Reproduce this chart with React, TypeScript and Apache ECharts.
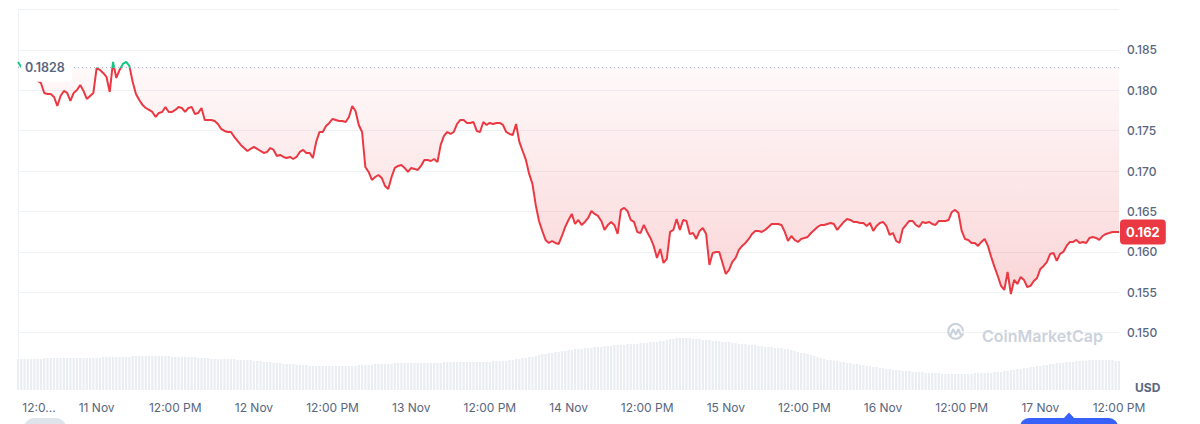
import React, { useEffect, useRef } from "react";
import * as echarts from "echarts";

// ---- data -------------------------------------------------------------
const START_UTC = Date.UTC(2024, 10, 10, 12, 0); // 10 Nov, 12:00 PM
const STEP_HOURS = 0.5;
const SPAN_HOURS = 168;
const BASELINE = 0.1828;

const PRICES = [
  0.18351, 0.18289, 0.18239, 0.18202, 0.18165, 0.1814, 0.18116, 0.18091, 0.17967, 0.17955,
  0.17955, 0.17918, 0.17806, 0.1793, 0.17992, 0.17967, 0.17868, 0.17967, 0.18004, 0.18066,
  0.17992, 0.17893, 0.1793, 0.17967, 0.18276, 0.18252, 0.18215, 0.18165, 0.17979, 0.18351,
  0.18153, 0.18252, 0.18326, 0.18351, 0.18301, 0.18103, 0.17955, 0.1788, 0.17819, 0.17781,
  0.17757, 0.17732, 0.1767, 0.1772, 0.17732, 0.17794, 0.17732, 0.17732, 0.17757, 0.17794,
  0.17781, 0.17732, 0.17781, 0.17794, 0.17707, 0.1772, 0.17781, 0.17633, 0.17633, 0.17633,
  0.17621, 0.17583, 0.17522, 0.17497, 0.17484, 0.17484, 0.17423, 0.17373, 0.17324, 0.17286,
  0.17249, 0.17274, 0.17299, 0.17274, 0.17249, 0.17225, 0.17237, 0.17286, 0.17262, 0.17187,
  0.172, 0.17175, 0.17163, 0.17175, 0.1715, 0.17175, 0.17237, 0.17262, 0.17225, 0.17225,
  0.17163, 0.17361, 0.17484, 0.17484, 0.17559, 0.17596, 0.17645, 0.17633, 0.17621, 0.17621,
  0.17608, 0.1767, 0.17806, 0.17744, 0.17571, 0.17484, 0.17051, 0.16989, 0.1689, 0.16927,
  0.16952, 0.16915, 0.16816, 0.16779, 0.16927, 0.17039, 0.17064, 0.17076, 0.17039, 0.16989,
  0.17039, 0.17027, 0.17014, 0.17064, 0.17138, 0.17138, 0.17125, 0.1715, 0.17113, 0.17324,
  0.17435, 0.17484, 0.1746, 0.17484, 0.17583, 0.17633, 0.17633, 0.17596, 0.17596, 0.17608,
  0.17497, 0.17484, 0.17608, 0.17571, 0.17596, 0.17583, 0.17596, 0.17596, 0.17571, 0.17484,
  0.1746, 0.17447, 0.17583, 0.17361, 0.17249, 0.17138, 0.16965, 0.16841, 0.16581, 0.16383,
  0.16259, 0.16148, 0.16111, 0.16135, 0.16111, 0.16098, 0.16197, 0.16309, 0.16395, 0.1647,
  0.16346, 0.16395, 0.16333, 0.16371, 0.1642, 0.16507, 0.1647, 0.16445, 0.16383, 0.16272,
  0.16333, 0.16371, 0.16333, 0.16222, 0.16519, 0.16544, 0.16507, 0.16395, 0.16371, 0.16247,
  0.16234, 0.16333, 0.16247, 0.16173, 0.16074, 0.15925, 0.16036, 0.15863, 0.15913, 0.16247,
  0.16272, 0.16408, 0.16272, 0.16395, 0.16383, 0.16222, 0.16234, 0.1616, 0.16259, 0.16296,
  0.16222, 0.15838, 0.15987, 0.15999, 0.15999, 0.15863, 0.15727, 0.15777, 0.15876, 0.15925,
  0.16024, 0.16074, 0.16111, 0.1616, 0.16222, 0.16259, 0.16259, 0.16247, 0.16272, 0.16309,
  0.16346, 0.16346, 0.16346, 0.16333, 0.16247, 0.16135, 0.16197, 0.16148, 0.16123, 0.1616,
  0.16173, 0.16185, 0.16234, 0.16272, 0.16309, 0.16333, 0.16333, 0.16346, 0.16358, 0.16346,
  0.16272, 0.16321, 0.16371, 0.16408, 0.16395, 0.16371, 0.16371, 0.16358, 0.16358, 0.16321,
  0.16358, 0.16259, 0.16321, 0.16358, 0.16371, 0.16321, 0.1621, 0.16234, 0.16135, 0.16111,
  0.16284, 0.16333, 0.16383, 0.16383, 0.16333, 0.16309, 0.16371, 0.16358, 0.16371, 0.16346,
  0.16333, 0.16383, 0.16383, 0.16383, 0.16395, 0.16494, 0.16519, 0.16482, 0.16259, 0.1616,
  0.16148, 0.16111, 0.16111, 0.16074, 0.16123, 0.1616, 0.16074, 0.15937, 0.15814, 0.15702,
  0.15579, 0.15529, 0.15752, 0.15479, 0.15653, 0.15603, 0.1569, 0.15653, 0.15566, 0.15579,
  0.1564, 0.15678, 0.15789, 0.15826, 0.15876, 0.15975, 0.15987, 0.15888, 0.15975, 0.15999,
  0.16074, 0.16123, 0.16123, 0.16148, 0.16111, 0.16123, 0.16111, 0.16173, 0.16185, 0.16173,
  0.16148, 0.16197, 0.16222, 0.16234, 0.16247, 0.16247, 0.16247,
];

// 24h volume (millions USD), same 30-minute steps
const VOLUMES = [
  31, 31, 31, 31, 31, 31, 31, 31, 32, 32,
  32, 32, 32, 32, 32, 32, 32, 32, 32, 32,
  32, 32, 32, 32, 32, 32, 33, 33, 33, 33,
  33, 33, 33, 33, 33, 34, 34, 34, 34, 34,
  34, 34, 34, 34, 34, 34, 34, 33, 33, 33,
  33, 33, 33, 33, 33, 32, 32, 32, 32, 31,
  31, 31, 31, 31, 31, 31, 31, 30, 30, 30,
  30, 30, 29, 29, 29, 28, 28, 28, 27, 27,
  27, 26, 26, 26, 26, 25, 25, 25, 25, 24,
  24, 24, 24, 24, 24, 24, 24, 24, 24, 24,
  24, 24, 24, 24, 25, 25, 25, 25, 25, 26,
  26, 26, 26, 26, 26, 27, 27, 27, 27, 27,
  27, 27, 27, 27, 27, 27, 27, 27, 27, 27,
  28, 28, 28, 28, 28, 28, 28, 28, 28, 28,
  28, 28, 28, 28, 28, 29, 29, 29, 29, 29,
  30, 30, 31, 31, 32, 32, 33, 33, 34, 35,
  36, 36, 37, 37, 38, 38, 39, 39, 40, 40,
  41, 41, 41, 42, 42, 42, 43, 43, 43, 44,
  44, 44, 45, 45, 45, 45, 46, 46, 46, 46,
  47, 47, 47, 48, 48, 48, 49, 49, 50, 51,
  51, 52, 52, 52, 52, 52, 51, 51, 51, 50,
  50, 50, 49, 49, 49, 48, 48, 48, 47, 47,
  46, 46, 46, 45, 45, 45, 44, 44, 43, 43,
  43, 42, 42, 42, 41, 41, 40, 39, 38, 37,
  37, 36, 35, 34, 33, 32, 31, 30, 30, 29,
  29, 28, 28, 27, 27, 26, 26, 25, 25, 24,
  24, 23, 23, 22, 22, 21, 21, 20, 20, 20,
  19, 19, 19, 18, 18, 18, 18, 17, 17, 17,
  17, 17, 16, 16, 16, 16, 16, 16, 16, 16,
  16, 16, 17, 17, 17, 17, 17, 17, 18, 18,
  18, 19, 19, 20, 20, 21, 21, 22, 22, 23,
  23, 24, 24, 25, 25, 26, 26, 27, 27, 27,
  28, 28, 28, 29, 29, 29, 29, 30, 30, 30,
  30, 30, 30, 30, 30, 29, 29,
];

const MONTHS = ["Jan", "Feb", "Mar", "Apr", "May", "Jun", "Jul", "Aug", "Sep", "Oct", "Nov", "Dec"];
const PRICE_MIN = 0.145;
const PRICE_MAX = 0.19;
const PRICE_STEP = 0.005;
const VOL_MAX = 60;

const UP = "#16c784";
const DOWN = "#ea3943";
const AXIS_TEXT = "#58667e";
const GRID_LINE = "#eff2f5";

// CoinMarketCap-like logo outline (24 x 24 box)
const LOGO_D =
  "M20.6 14.4 A9.2 9.2 0 1 1 21.2 10.0 M5.9 15.6 L8.5 9.4 Q9.1 8.3 9.7 9.5 L11.8 14.2 Q12.3 15.1 12.8 14.1 L14.9 9.4 Q15.5 8.3 16.1 9.5 L17.6 13.9 Q18.5 16.5 21.2 14.9";
echarts.graphic.registerShape("cmcLogo", echarts.graphic.extendPath(LOGO_D, {}) as any);

function xLabel(h: number): string {
  if (h === 0) return "{first|12:0...}";
  const d = new Date(START_UTC + h * 3600 * 1000);
  if (d.getUTCHours() === 0) return `${d.getUTCDate()} ${MONTHS[d.getUTCMonth()]}`;
  const hr = d.getUTCHours();
  const h12 = hr % 12 === 0 ? 12 : hr % 12;
  return `${h12}:00 ${hr >= 12 ? "PM" : "AM"}`;
}

export default function App() {
  const ref = useRef<HTMLDivElement>(null);

  useEffect(() => {
    document.body.style.margin = "0";
    const el = ref.current!;
    const chart = echarts.init(el, null, { renderer: "svg" });

    const priceData = PRICES.map((v, i) => [i * STEP_HOURS, v]);
    const volData = VOLUMES.map((v, i) => [i * STEP_HOURS, v]);
    const last = PRICES[PRICES.length - 1];
    const font = 'Inter, "Noto Sans", "DejaVu Sans", sans-serif';

    const option: any = {
      animation: false,
      textStyle: { fontFamily: font },
      grid: [
        { left: 18, right: 81, top: 9.5, height: 363.6 },
        { left: 18, right: 81, top: 330, height: 60 },
      ],
      xAxis: [
        { type: "value", gridIndex: 0, min: 0, max: SPAN_HOURS, interval: 12, show: false },
        {
          type: "value",
          gridIndex: 1,
          min: 0,
          max: SPAN_HOURS,
          interval: 12,
          axisLine: { show: false },
          axisTick: { show: false },
          splitLine: { show: false },
          axisLabel: {
            formatter: (v: number) => xLabel(v),
            color: AXIS_TEXT,
            fontSize: 12,
            fontFamily: font,
            margin: 11,
            rich: { first: { padding: [0, 0, 0, 42], fontSize: 12, color: AXIS_TEXT, fontFamily: font } },
          },
        },
      ],
      yAxis: [
        {
          type: "value",
          gridIndex: 0,
          position: "right",
          min: PRICE_MIN,
          max: PRICE_MAX,
          interval: PRICE_STEP,
          axisLine: { show: true, lineStyle: { color: GRID_LINE } },
          axisTick: { show: false },
          axisLabel: {
            formatter: (v: number) => (v < 0.1475 || v > 0.1875 ? "" : v.toFixed(3)),
            color: AXIS_TEXT,
            fontSize: 12,
            fontWeight: 500,
            fontFamily: font,
            margin: 8,
          },
          splitLine: {
            show: true,
            lineStyle: {
              color: ["rgba(0,0,0,0)", GRID_LINE, GRID_LINE, GRID_LINE, GRID_LINE, GRID_LINE, GRID_LINE, GRID_LINE, GRID_LINE, GRID_LINE],
              width: 1,
            },
          },
        },
        {
          type: "value",
          gridIndex: 1,
          position: "right",
          min: 0,
          max: VOL_MAX,
          axisLine: { show: true, lineStyle: { color: GRID_LINE } },
          axisTick: { show: false },
          axisLabel: { show: false },
          splitLine: { show: false },
        },
      ],
      visualMap: {
        show: false,
        type: "piecewise",
        seriesIndex: 0,
        dimension: 1,
        pieces: [
          { gt: BASELINE, lte: 1, color: UP },
          { gte: 0, lte: BASELINE, color: DOWN },
        ],
        outOfRange: { color: DOWN },
      },
      series: [
        {
          type: "line",
          name: "Price",
          xAxisIndex: 0,
          yAxisIndex: 0,
          data: priceData,
          showSymbol: false,
          symbol: "none",
          z: 5,
          lineStyle: { width: 2 },
          areaStyle: {
            origin: BASELINE,
            color: new echarts.graphic.LinearGradient(0, 0, 0, 1, [
              { offset: 0, color: "rgba(234,57,67,0.035)" },
              { offset: 1, color: "rgba(234,57,67,0.3)" },
            ]),
          },
        },
        {
          type: "bar",
          name: "Volume",
          xAxisIndex: 1,
          yAxisIndex: 1,
          data: volData,
          barWidth: 2.2,
          itemStyle: { color: "#eaedf1" },
          silent: true,
          z: 1,
        },
      ],
    };

    chart.setOption(option);

    const baseY = chart.convertToPixel({ yAxisIndex: 0 }, BASELINE) as number;
    const lastY = chart.convertToPixel({ yAxisIndex: 0 }, last) as number;
    const right = chart.convertToPixel({ xAxisIndex: 0 }, SPAN_HOURS) as number;
    const left = chart.convertToPixel({ xAxisIndex: 0 }, 0) as number;
    const topY = chart.convertToPixel({ yAxisIndex: 0 }, PRICE_MAX) as number;
    const volBottom = chart.convertToPixel({ yAxisIndex: 1 }, 0) as number;

    chart.setOption({
      graphic: [
        {
          type: "line",
          id: "leftBorder",
          z: 0,
          shape: { x1: left + 0.5, y1: topY, x2: left + 0.5, y2: volBottom },
          style: { stroke: GRID_LINE, lineWidth: 1 },
        },
        {
          type: "line",
          id: "baseLine",
          z: 50,
          shape: { x1: left, y1: baseY, x2: right, y2: baseY },
          style: { stroke: "#a1a7bb", lineWidth: 1, lineDash: [1, 3] },
        },
        {
          type: "text",
          id: "baseLabel",
          z: 100,
          x: 21,
          y: baseY,
          style: {
            text: BASELINE.toFixed(4),
            fill: AXIS_TEXT,
            fontSize: 12.5,
            fontWeight: 600,
            fontFamily: font,
            verticalAlign: "middle",
            align: "left",
            backgroundColor: "#ffffff",
            padding: [6, 7, 9, 4],
          },
        },
        {
          type: "text",
          id: "lastLabel",
          z: 100,
          x: right + 1,
          y: lastY,
          style: {
            text: last.toFixed(3),
            fill: "#ffffff",
            fontSize: 13,
            fontWeight: "bold",
            fontFamily: font,
            verticalAlign: "middle",
            align: "left",
            backgroundColor: DOWN,
            padding: [6, 6, 6, 6],
            borderRadius: 4,
          },
        },
        {
          type: "text",
          id: "usd",
          z: 100,
          x: 1135,
          y: 387,
          style: {
            text: "USD",
            fill: AXIS_TEXT,
            fontSize: 12,
            fontWeight: 700,
            fontFamily: font,
            verticalAlign: "middle",
            align: "left",
          },
        },
        {
          type: "cmcLogo",
          id: "logo",
          z: 0,
          x: 946,
          y: 322.5,
          scaleX: 0.8,
          scaleY: 0.8,
          style: { fill: "none", stroke: "#ccd2dc", lineWidth: 2.6, lineCap: "round", lineJoin: "round" },
        },
        {
          type: "text",
          id: "wm",
          z: 0,
          x: 982,
          y: 336,
          style: {
            text: "CoinMarketCap",
            fill: "#ccd2dc",
            fontSize: 16,
            fontWeight: 600,
            fontFamily: font,
            verticalAlign: "middle",
            align: "left",
          },
        },
        {
          type: "rect",
          id: "pillGray",
          z: 100,
          shape: { x: 24, y: 418, width: 42, height: 20, r: 10 },
          style: { fill: "#dfe3ea" },
        },
        {
          type: "rect",
          id: "pillBlue",
          z: 100,
          shape: { x: 1020, y: 418, width: 98, height: 20, r: 9 },
          style: { fill: "#3861fb" },
        },
        {
          type: "polygon",
          id: "pillTip",
          z: 100,
          shape: { points: [[1063, 419], [1069, 412.5], [1075, 419]] },
          style: { fill: "#3861fb" },
        },
      ],
    });

    return () => chart.dispose();
  }, []);

  return (
    <div
      ref={ref}
      style={{ position: "absolute", left: 0, top: 0, width: 1200, height: 424, background: "#ffffff" }}
    />
  );
}
